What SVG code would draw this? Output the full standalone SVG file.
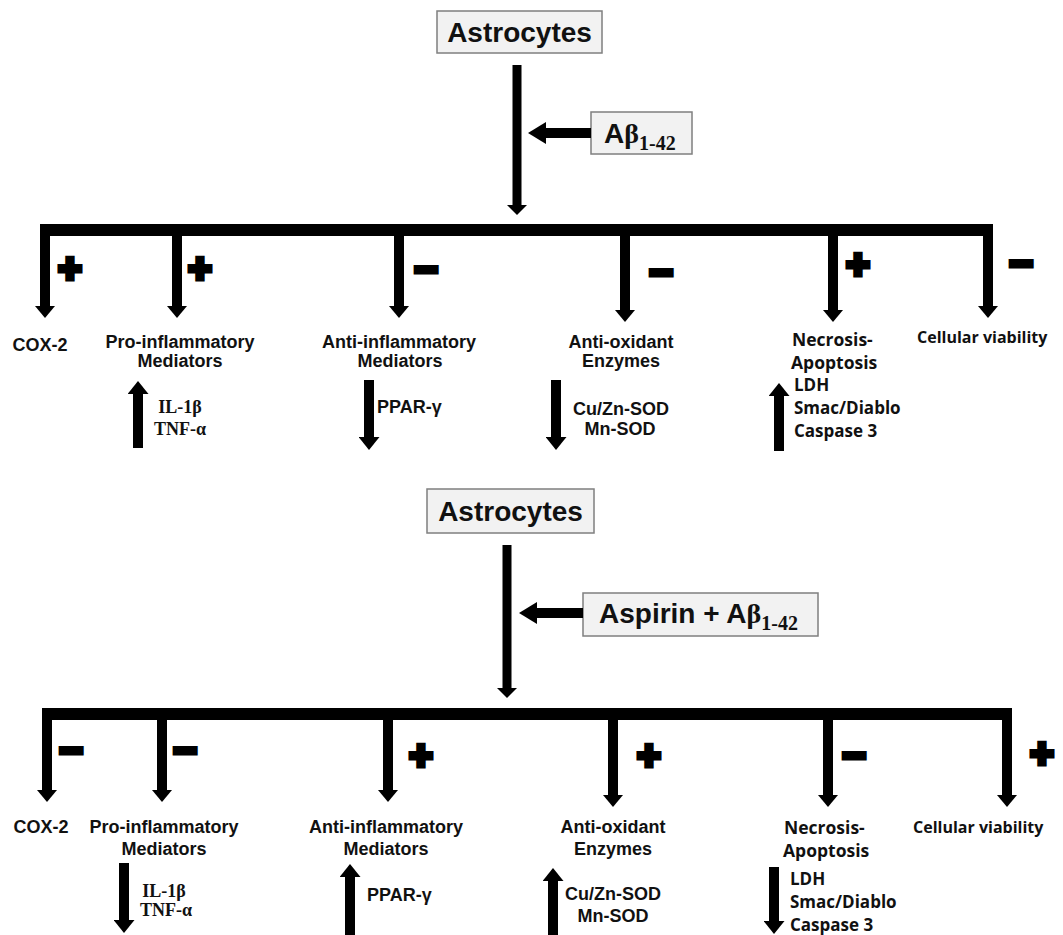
<svg xmlns="http://www.w3.org/2000/svg" width="1063" height="935" viewBox="0 0 1063 935">
<style>
.box{fill:#f2f2f2;stroke:#7f7f7f;stroke-width:1.5}
.title{font-family:"Liberation Sans",Arial,sans-serif;font-weight:bold;font-size:28px;fill:#111}
.sub{font-family:"Liberation Serif","Times New Roman",serif;font-weight:bold;font-size:20px;fill:#111}
.beta{font-family:"Liberation Serif","Times New Roman",serif;font-weight:bold;font-size:28px}
.lbl{font-family:"Liberation Sans",Arial,sans-serif;font-weight:bold;font-size:18px;fill:#111;text-anchor:middle}
.lbs{font-family:"Liberation Sans",Arial,sans-serif;font-weight:bold;font-size:18px;fill:#111}
.lbo{font-family:"Open Sans","Liberation Sans",sans-serif;font-weight:bold;font-size:17.5px;fill:#111}
.lbp{font-family:"Open Sans","Liberation Sans",sans-serif;font-weight:bold;font-size:17px;fill:#111}
.lbv{font-family:"Open Sans","Liberation Sans",sans-serif;font-weight:bold;font-size:16px;fill:#111}
.ser{font-family:"Liberation Serif","Times New Roman",serif;font-weight:bold;font-size:18px;fill:#111;text-anchor:middle}
.sign{font-family:"Liberation Sans",Arial,sans-serif;font-weight:bold;font-size:40px;fill:#000;stroke:#000;stroke-width:5;text-anchor:middle;dominant-baseline:central}
.bar{stroke:#000;stroke-width:12;fill:none}
.br{stroke:#000;stroke-width:10;fill:none;marker-end:url(#hb)}
.main{stroke:#000;stroke-width:9;fill:none;marker-end:url(#hm)}
.side{stroke:#000;stroke-width:10;fill:none;marker-end:url(#hs)}
.small{stroke:#000;stroke-width:10;fill:none;marker-end:url(#hu)}
</style>
<defs>
<marker id="hb" viewBox="0 0 12 20" markerWidth="12" markerHeight="20" refX="0.5" refY="10" orient="auto" markerUnits="userSpaceOnUse"><path d="M0,0 L12,10 L0,20 Z" fill="#000"/></marker>
<marker id="hm" viewBox="0 0 10 20" markerWidth="10" markerHeight="20" refX="0.5" refY="10" orient="auto" markerUnits="userSpaceOnUse"><path d="M0,0 L10,10 L0,20 Z" fill="#000"/></marker>
<marker id="hs" viewBox="0 0 18 22" markerWidth="18" markerHeight="22" refX="0.5" refY="11" orient="auto" markerUnits="userSpaceOnUse"><path d="M0,0 L18,11 L0,22 Z" fill="#000"/></marker>
<marker id="hu" viewBox="0 0 13 21" markerWidth="13" markerHeight="21" refX="0.5" refY="10.5" orient="auto" markerUnits="userSpaceOnUse"><path d="M0,0 L13,10.5 L0,21 Z" fill="#000"/></marker>
</defs>

<!-- Top panel nodes -->
<g id="astro1"><rect class="box" x="437" y="11" width="165" height="42"/><text class="title" x="519.5" y="42" text-anchor="middle">Astrocytes</text></g>
<g id="abeta1"><rect class="box" x="591" y="112" width="101" height="42"/><text class="title" x="604" y="143">A<tspan class="beta">β</tspan><tspan class="sub" y="150">1-42</tspan></text></g>

<g id="connectors1">
<line class="main" x1="517" y1="65" x2="517" y2="205.5"/>
<line class="side" x1="591" y1="133" x2="545.5" y2="133"/>
<line class="bar" x1="40" y1="230" x2="993" y2="230"/>
<line class="br" x1="45" y1="224" x2="45" y2="306.5"/>
<line class="br" x1="177" y1="224" x2="177" y2="306.5"/>
<line class="br" x1="399" y1="224" x2="399" y2="306.5"/>
<line class="br" x1="625" y1="224" x2="625" y2="310.5"/>
<line class="br" x1="833" y1="224" x2="833" y2="310.5"/>
<line class="br" x1="988" y1="224" x2="988" y2="306.5"/>
<line class="small" x1="138" y1="448" x2="138" y2="393.5"/>
<line class="small" x1="369" y1="380" x2="369" y2="437.5"/>
<line class="small" x1="556" y1="380" x2="556" y2="437.5"/>
<line class="small" x1="779" y1="451" x2="779" y2="395.5"/>
</g>

<g id="signs1">
<text class="sign" x="70" y="268">+</text>
<text class="sign" x="200" y="268">+</text>
<text class="sign" x="426" y="269">−</text>
<text class="sign" x="661" y="272">−</text>
<text class="sign" x="858" y="264">+</text>
<text class="sign" x="1021" y="263">−</text>
</g>

<g id="cox1"><text class="lbl" x="40" y="351">COX-2</text></g>
<g id="pro1"><text class="lbl" x="180" y="348">Pro-inflammatory</text><text class="lbl" x="180" y="367">Mediators</text><text class="ser" x="180" y="413">IL-1β</text><text class="ser" x="180" y="435">TNF-α</text></g>
<g id="anti1"><text class="lbl" x="399" y="348">Anti-inflammatory</text><text class="lbl" x="400" y="367">Mediators</text><text class="lbs" x="377" y="413">PPAR-γ</text></g>
<g id="ox1"><text class="lbl" x="621" y="348">Anti-oxidant</text><text class="lbl" x="621" y="367">Enzymes</text><text class="lbl" x="621" y="415">Cu/Zn-SOD</text><text class="lbl" x="620" y="435">Mn-SOD</text></g>
<g id="nec1"><text class="lbo" x="792" y="346">Necrosis-</text><text class="lbo" x="791" y="369">Apoptosis</text><text class="lbp" x="794" y="391">LDH</text><text class="lbp" x="794" y="414">Smac/Diablo</text><text class="lbp" x="794" y="437">Caspase 3</text></g>
<g id="via1"><text class="lbv" x="917" y="343">Cellular viability</text></g>

<!-- Bottom panel nodes -->
<g id="astro2"><rect class="box" x="427" y="489" width="167" height="44"/><text class="title" x="510.5" y="521" text-anchor="middle">Astrocytes</text></g>
<g id="asp2"><rect class="box" x="583" y="593" width="235" height="43"/><text class="title" x="599" y="623">Aspirin + A<tspan class="beta">β</tspan><tspan class="sub" y="630">1-42</tspan></text></g>

<g id="connectors2">
<line class="main" x1="507" y1="545" x2="507" y2="688.5"/>
<line class="side" x1="583" y1="613" x2="536.5" y2="613"/>
<line class="bar" x1="42" y1="714" x2="1012" y2="714"/>
<line class="br" x1="47" y1="708" x2="47" y2="790.5"/>
<line class="br" x1="162" y1="708" x2="162" y2="790.5"/>
<line class="br" x1="388" y1="708" x2="388" y2="790.5"/>
<line class="br" x1="613" y1="708" x2="613" y2="795.5"/>
<line class="br" x1="828" y1="708" x2="828" y2="795.5"/>
<line class="br" x1="1007" y1="708" x2="1007" y2="795.5"/>
<line class="small" x1="124" y1="863" x2="124" y2="920.5"/>
<line class="small" x1="350" y1="935" x2="350" y2="876.5"/>
<line class="small" x1="553" y1="935" x2="553" y2="880.5"/>
<line class="small" x1="774" y1="867" x2="774" y2="921.5"/>
</g>

<g id="signs2">
<text class="sign" x="71" y="750">−</text>
<text class="sign" x="185" y="750">−</text>
<text class="sign" x="421" y="755">+</text>
<text class="sign" x="649" y="755">+</text>
<text class="sign" x="854" y="755">−</text>
<text class="sign" x="1042" y="753">+</text>
</g>

<g id="cox2"><text class="lbl" x="41" y="833">COX-2</text></g>
<g id="pro2"><text class="lbl" x="164" y="833">Pro-inflammatory</text><text class="lbl" x="164" y="855">Mediators</text><text class="ser" x="164" y="897">IL-1β</text><text class="ser" x="166" y="916">TNF-α</text></g>
<g id="anti2"><text class="lbl" x="386" y="833">Anti-inflammatory</text><text class="lbl" x="386" y="855">Mediators</text><text class="lbs" x="367" y="901">PPAR-γ</text></g>
<g id="ox2"><text class="lbl" x="613" y="833">Anti-oxidant</text><text class="lbl" x="613" y="855">Enzymes</text><text class="lbl" x="613" y="900">Cu/Zn-SOD</text><text class="lbl" x="613" y="922">Mn-SOD</text></g>
<g id="nec2"><text class="lbo" x="784" y="834">Necrosis-</text><text class="lbo" x="783" y="857">Apoptosis</text><text class="lbp" x="790" y="885">LDH</text><text class="lbp" x="790" y="908">Smac/Diablo</text><text class="lbp" x="790" y="931">Caspase 3</text></g>
<g id="via2"><text class="lbv" x="913" y="833">Cellular viability</text></g>
</svg>
